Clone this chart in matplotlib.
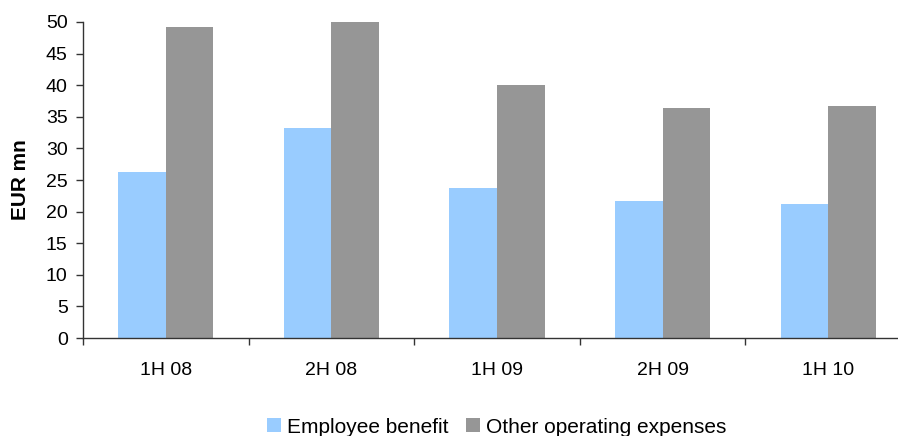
import matplotlib
matplotlib.use("Agg")
import matplotlib.pyplot as plt
import numpy as np

plt.rcParams['font.family'] = ['Liberation Sans', 'DejaVu Sans']

categories = ["1H 08", "2H 08", "1H 09", "2H 09", "1H 10"]
employee_benefit = [26.3, 33.2, 23.7, 21.7, 21.2]
other_opex = [49.2, 50.0, 40.0, 36.4, 36.7]
y_ticks = [0, 5, 10, 15, 20, 25, 30, 35, 40, 45, 50]

W, H = 898, 436
fig = plt.figure(figsize=(W / 100, H / 100), dpi=100)
# plot area extends slightly past the right edge of the canvas
ax = fig.add_axes([83 / W, 1 - 338 / H, 828 / W, 316 / H])

x = np.arange(len(categories))
bw = 0.287
ax.bar(x - bw / 2, employee_benefit, width=bw, color="#99CCFF",
       label="Employee benefit", linewidth=0)
ax.bar(x + bw / 2, other_opex, width=bw, color="#969696",
       label="Other operating expenses", linewidth=0)

ax.set_xlim(-0.5, len(categories) - 0.5)
ax.set_ylim(0, 50)
ax.set_yticks(y_ticks)
ax.tick_params(axis="y", labelsize=14, length=5, width=1, direction="out",
               pad=6, color="#333333")

ax.set_xticks(x)
ax.set_xticklabels(categories, fontsize=14)
ax.set_xticks(np.arange(len(categories) + 1) - 0.5, minor=True)
ax.tick_params(axis="x", which="major", length=0, pad=17)
ax.tick_params(axis="x", which="minor", length=5, width=1, direction="out",
               color="#333333")

for side in ("top", "right"):
    ax.spines[side].set_visible(False)
for side in ("left", "bottom"):
    ax.spines[side].set_color("#333333")
    ax.spines[side].set_linewidth(1)

ax.set_ylabel("EUR mn", fontsize=15, fontweight="bold")
ax.yaxis.set_label_coords(-0.064, 0.5)

fig.legend(loc="center", bbox_to_anchor=(497 / W, 1 - 427 / H), ncol=2,
           frameon=False, fontsize=15, handlelength=0.65, handleheight=0.65,
           handletextpad=0.3, columnspacing=0.85, borderpad=0)

fig.savefig("out.png", dpi=100)
